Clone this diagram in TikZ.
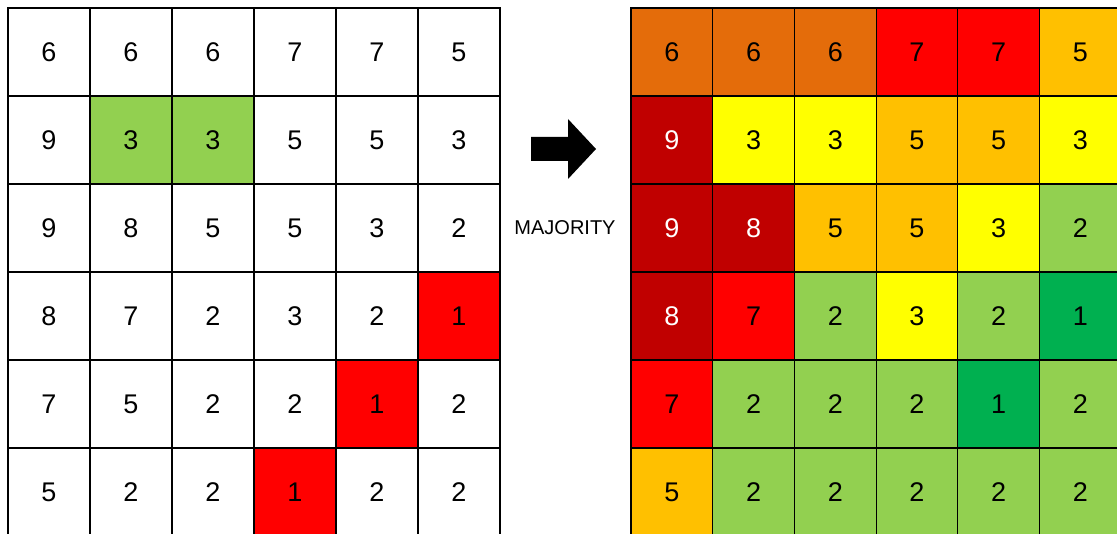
\documentclass[tikz,border=0pt]{standalone}
\usepackage{fontspec}
\setmainfont{Liberation Sans}
\definecolor{cellorange}{RGB}{228,108,10}
\definecolor{cellred}{RGB}{255,0,0}
\definecolor{celldarkred}{RGB}{192,0,0}
\definecolor{cellyellow}{RGB}{255,255,0}
\definecolor{cellgold}{RGB}{255,192,0}
\definecolor{celllime}{RGB}{146,208,80}
\definecolor{cellgreen}{RGB}{0,176,80}

\begin{document}
\begin{tikzpicture}[
    x=1pt, y=-1pt,
    cell/.style={draw=black, line width=1.2pt, inner sep=0pt,
        minimum height=88pt, font=\fontsize{27}{27}\selectfont},
    lcell/.style={cell, minimum width=82pt},
    rcell/.style={cell, minimum width=81.7pt},
    blank/.style={fill=white},
    grn/.style={fill=celllime},
    redc/.style={fill=cellred},
    val1/.style={fill=cellgreen},
    val2/.style={fill=celllime},
    val3/.style={fill=cellyellow},
    val5/.style={fill=cellgold},
    val6/.style={fill=cellorange},
    val7/.style={fill=cellred},
    val8/.style={fill=celldarkred, text=white},
    val9/.style={fill=celldarkred, text=white}
]

    \useasboundingbox (0,0) rectangle (1117,534);

    % ==========================================
    % LEFT GRID (input)
    % ==========================================
    \foreach \row [count=\r] in {
        {6/blank,6/blank,6/blank,7/blank,7/blank,5/blank},
        {9/blank,3/grn,3/grn,5/blank,5/blank,3/blank},
        {9/blank,8/blank,5/blank,5/blank,3/blank,2/blank},
        {8/blank,7/blank,2/blank,3/blank,2/blank,1/redc},
        {7/blank,5/blank,2/blank,2/blank,1/redc,2/blank},
        {5/blank,2/blank,2/blank,1/redc,2/blank,2/blank}}
    {
        \foreach \v/\s [count=\c] in \row
            \node[lcell, \s] (L-\r-\c) at ({49+82*(\c-1)}, {52+88*(\r-1)}) {\v};
    }

    % ==========================================
    % ARROW AND LABEL
    % ==========================================
    \coordinate (arrowtail) at (531,149);
    \fill[black] (arrowtail) ++(0,-12) -- ++(37,0) -- ++(0,-18) -- ++(28,30)
        -- ++(-28,30) -- ++(0,-18) -- ++(-37,0) -- cycle;
    \node[font=\fontsize{20}{20}\selectfont] (majority) at (565,228) {MAJORITY};

    % ==========================================
    % RIGHT GRID (majority result)
    % ==========================================
    \foreach \row [count=\r] in {
        {6,6,6,7,7,5},
        {9,3,3,5,5,3},
        {9,8,5,5,3,2},
        {8,7,2,3,2,1},
        {7,2,2,2,1,2},
        {5,2,2,2,2,2}}
    {
        \foreach \v [count=\c] in \row
            \node[rcell, val\v] (R-\r-\c) at ({671.85+81.7*(\c-1)}, {52+88*(\r-1)}) {\v};
    }

\end{tikzpicture}
\end{document}
